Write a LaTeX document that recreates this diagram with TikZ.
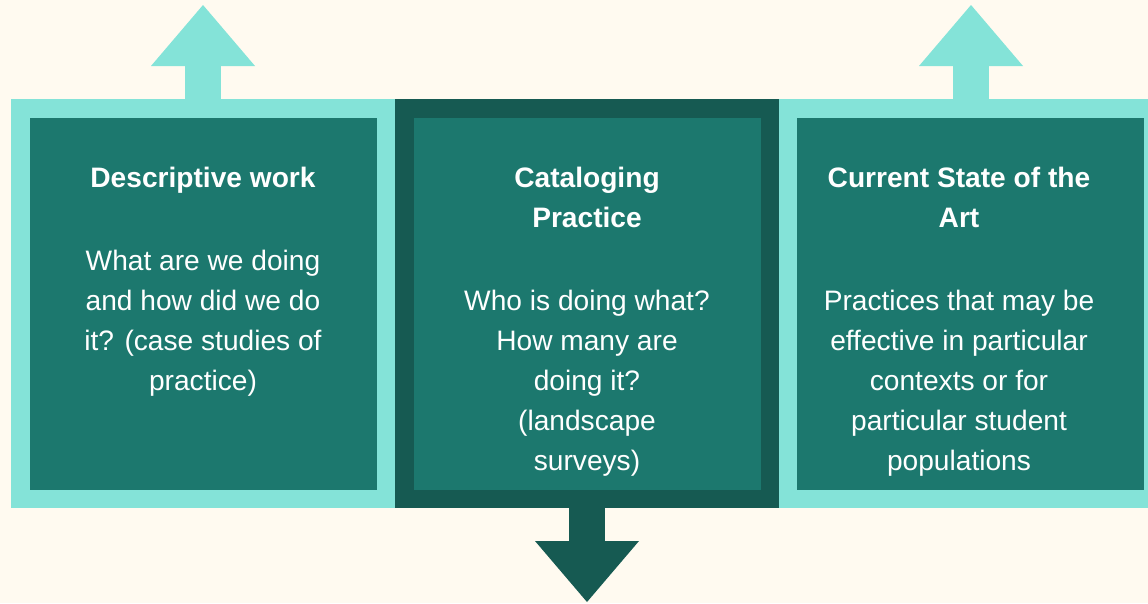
\documentclass[tikz,border=0pt]{standalone}
\usepackage{fontspec}
\setmainfont{Liberation Sans}
\usepackage{tikz}
\usetikzlibrary{positioning}

\definecolor{cream}{HTML}{FFFAF0}
\definecolor{lightteal}{HTML}{84E3D8}
\definecolor{midteal}{HTML}{1C786E}
\definecolor{darkteal}{HTML}{165A52}

\tikzset{
	boxtext/.style={text=white, anchor=north, inner sep=0pt, align=center,
		font=\fontsize{21.1}{30}\selectfont}
}

\begin{document}
\begin{tikzpicture}[x=0.75pt, y=-0.75pt]
	\fill[cream] (0,0) rectangle (1148,603); % Hintergrund
	
	% Pfeile nach oben
	\fill[lightteal] (185,66) rectangle (221,100);
	\fill[lightteal] (151,66) -- (255,66) -- (203,5) -- cycle;
	\fill[lightteal] (953,66) rectangle (989,100);
	\fill[lightteal] (919,66) -- (1023,66) -- (971,5) -- cycle;
	
	% Pfeil nach unten
	\fill[darkteal] (569,507) rectangle (605,542);
	\fill[darkteal] (535,541) -- (639,541) -- (587,602) -- cycle;
	
	% Kaesten
	\fill[lightteal] (11,99) rectangle (395,508);
	\fill[midteal] (30,118) rectangle (377,490);
	
	\fill[darkteal] (395,99) rectangle (779,508);
	\fill[midteal] (414,118) rectangle (761,490);
	
	\fill[lightteal] (779,99) rectangle (1148,508);
	\fill[midteal] (797,118) rectangle (1144,490);
	
	% Texte
	\node[boxtext] (desc) at (203,167) {\textbf{Descriptive work}\\[31.8pt]
		What are we doing\\and how did we do\\it? (case studies of\\practice)};
	\node[boxtext] (catalog) at (587,167) {\textbf{Cataloging}\\\textbf{Practice}\\[31.8pt]
		Who is doing what?\\How many are\\doing it?\\(landscape\\surveys)};
	\node[boxtext] (state) at (959,167) {\textbf{Current State of the}\\\textbf{Art}\\[31.8pt]
		Practices that may be\\effective in particular\\contexts or for\\particular student\\populations};
	
	%\draw[help lines, step=50] (0,0) grid (1148,603);
\end{tikzpicture}
\end{document}
